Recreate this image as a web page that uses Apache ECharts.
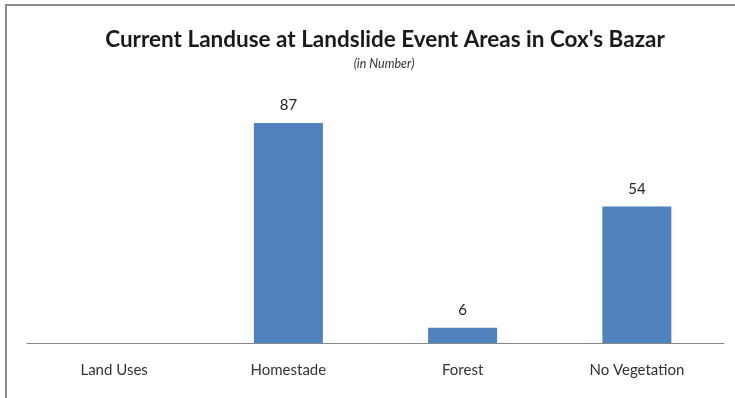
<!DOCTYPE html>
<html>
<head>
<meta charset="utf-8">
<script src="https://cdn.jsdelivr.net/npm/echarts@6/dist/echarts.min.js"></script>
<style>html,body{margin:0;padding:0;background:#fff}#c{width:735px;height:398px}</style>
</head>
<body>
<div id="c"></div>
<script>
const categories = ['Land Uses', 'Homestade', 'Forest', 'No Vegetation'];
const values = [null, 87, 6, 54];
const titleText = "Current Landuse at Landslide Event Areas in Cox's Bazar";
const subtitleText = '(in Number)';

const chart = echarts.init(document.getElementById('c'));
chart.setOption({
  animation: false,
  backgroundColor: '#fff',
  graphic: [{
    type: 'rect', shape: {x: 6, y: 5, width: 900, height: 600},
    style: {fill: 'none', stroke: '#8a8a8a', lineWidth: 2}, silent: true, z: 0
  }],
  title: [
    {text: titleText, left: 380, top: 23, textAlign: 'center',
     textStyle: {fontFamily: 'Lato', fontWeight: 'bold', fontSize: 22.5, color: '#1a1a1a'}},
    {text: subtitleText, left: 379, top: 52, textAlign: 'center',
     textStyle: {fontFamily: 'Lato', fontStyle: 'italic', fontWeight: 'normal', fontSize: 12.5, color: '#333'}}
  ],
  grid: {left: 27, right: 11, top: 90, bottom: 55, containLabel: false},
  xAxis: {
    type: 'category', data: categories,
    axisLine: {lineStyle: {color: '#888', width: 1}},
    axisTick: {show: false},
    axisLabel: {margin: 20, fontFamily: 'Lato', fontSize: 15, color: '#333'}
  },
  yAxis: {type: 'value', min: 0, max: 100, show: false, splitLine: {show: false}},
  series: [{
    type: 'bar', data: values, barWidth: 69,
    itemStyle: {color: '#4F81BD'},
    label: {show: true, position: 'top', distance: 10, fontFamily: 'Lato', fontSize: 15, color: '#222'}
  }]
});
</script>
</body>
</html>
